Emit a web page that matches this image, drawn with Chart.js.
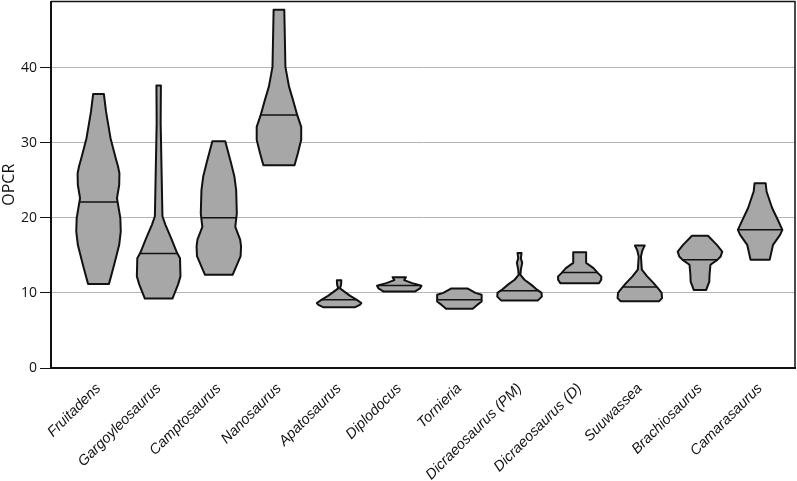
<!DOCTYPE html>
<html>
<head>
<meta charset="utf-8">
<script src="https://cdn.jsdelivr.net/npm/chart.js@4"></script>
<style>
  html, body { margin: 0; padding: 0; background: #fff; }
  #wrap { width: 797px; height: 481px; }
</style>
</head>
<body>
<div id="wrap"><canvas id="chart"></canvas></div>
<script>
'use strict';

const species = ['Fruitadens', 'Gargoyleosaurus', 'Camptosaurus', 'Nanosaurus', 'Apatosaurus',
  'Diplodocus', 'Tornieria', 'Dicraeosaurus (PM)', 'Dicraeosaurus (D)', 'Suuwassea',
  'Brachiosaurus', 'Camarasaurus'];

const medians = [22.1, 15.25, 20.0, 33.7, 9.1, 11.0, 9.1, 10.3, 12.7, 10.8, 14.4, 18.4];

// violin outlines: [OPCR, relative density width], top to bottom
const fruitadens = [[36.5, 0.24], [34.1, 0.34], [30.6, 0.54], [28.2, 0.75], [26.8, 0.88], [25.9, 0.94],
  [24.4, 0.93], [22.6, 0.83], [20.0, 0.98], [18.2, 1.0], [16.4, 0.93], [13.7, 0.70], [11.2, 0.47]];
const gargoyleosaurus = [[37.6, 0.10], [32.6, 0.09], [20.2, 0.17], [19.1, 0.30], [17.3, 0.56], [15.3, 0.83],
  [14.6, 0.96], [12.2, 0.98], [11.1, 0.87], [9.25, 0.62]];
const camptosaurus = [[30.2, 0.29], [27.3, 0.55], [25.5, 0.70], [23.7, 0.78], [20.6, 0.81], [18.8, 0.74],
  [17.1, 0.96], [16.2, 1.0], [14.9, 0.98], [13.5, 0.78], [12.4, 0.62]];
const nanosaurus = [[47.7, 0.24], [40.1, 0.29], [37.5, 0.45], [35.7, 0.63], [33.7, 0.82], [32.1, 1.0],
  [30.4, 1.0], [28.6, 0.85], [27.0, 0.70]];
const apatosaurus = [[11.7, 0.10], [11.1, 0.09], [10.6, 0.04], [10.2, 0.22], [9.6, 0.50], [9.1, 0.78],
  [8.65, 1.0], [8.4, 0.93], [8.1, 0.72]];
const diplodocus = [[12.1, 0.30], [11.7, 0.22], [11.3, 0.58], [10.95, 1.0], [10.6, 0.93], [10.2, 0.72]];
const tornieria = [[10.6, 0.36], [10.0, 0.72], [9.75, 1.0], [8.86, 1.0], [8.4, 0.80], [7.9, 0.60]];
const dicraeosaurusPM = [[15.3, 0.09], [14.6, 0.06], [14.0, 0.12], [13.1, 0.06], [12.4, 0.04], [11.75, 0.22],
  [11.1, 0.52], [10.4, 0.80], [10.0, 0.99], [9.5, 1.0], [9.0, 0.83]];
const dicraeosaurusD = [[15.4, 0.29], [14.0, 0.29], [13.3, 0.62], [12.6, 0.83], [12.2, 0.97], [11.75, 0.97],
  [11.3, 0.87]];
const suuwassea = [[16.3, 0.22], [15.7, 0.12], [14.85, 0.05], [13.1, 0.09], [12.2, 0.33], [11.3, 0.62],
  [10.6, 0.82], [10.0, 0.98], [9.3, 1.0], [8.9, 0.87]];
const brachiosaurus = [[17.6, 0.36], [16.4, 0.76], [15.5, 1.0], [14.85, 0.93], [14.4, 0.78], [13.75, 0.47],
  [12.4, 0.43], [11.5, 0.42], [10.4, 0.28]];
const camarasaurus = [[24.6, 0.25], [23.5, 0.29], [21.3, 0.54], [19.5, 0.83], [18.4, 1.0], [17.7, 0.89],
  [16.4, 0.58], [14.4, 0.43]];

const yTicks = [0, 10, 20, 30, 40];

const profiles = [fruitadens, gargoyleosaurus, camptosaurus, nanosaurus, apatosaurus, diplodocus,
  tornieria, dicraeosaurusPM, dicraeosaurusD, suuwassea, brachiosaurus, camarasaurus];

const HALF = 0.37; // half of the widest violin, in category units

function widthAt(prof, v) {
  for (let k = 0; k < prof.length - 1; k++) {
    const [v0, w0] = prof[k], [v1, w1] = prof[k + 1];
    if (v <= v0 && v >= v1) {
      return w0 + (w1 - w0) * (v0 - v) / (v0 - v1);
    }
  }
  return 0;
}

const violinPlugin = {
  id: 'violins',
  afterDatasetsDraw(chart) {
    const { ctx, scales: { x, y } } = chart;
    ctx.save();
    ctx.lineJoin = 'round';
    profiles.forEach((prof, i) => {
      ctx.beginPath();
      prof.forEach(([v, w], k) => {
        const px = x.getPixelForValue(i + w * HALF), py = y.getPixelForValue(v);
        if (k) ctx.lineTo(px, py); else ctx.moveTo(px, py);
      });
      for (let k = prof.length - 1; k >= 0; k--) {
        const [v, w] = prof[k];
        ctx.lineTo(x.getPixelForValue(i - w * HALF), y.getPixelForValue(v));
      }
      ctx.closePath();
      ctx.fillStyle = '#a7a7a7';
      ctx.fill();
      ctx.lineWidth = 2;
      ctx.strokeStyle = '#111';
      ctx.stroke();

      // median line
      const m = medians[i], w = widthAt(prof, m);
      const py = y.getPixelForValue(m);
      ctx.beginPath();
      ctx.moveTo(x.getPixelForValue(i - w * HALF), py);
      ctx.lineTo(x.getPixelForValue(i + w * HALF), py);
      ctx.lineWidth = 1.5;
      ctx.stroke();
    });
    ctx.restore();
  },
  afterDraw(chart) {
    // top and right edges of the plot box
    const { ctx, chartArea: a } = chart;
    ctx.save();
    ctx.strokeStyle = '#111';
    ctx.lineWidth = 1.5;
    ctx.beginPath();
    ctx.moveTo(a.left, a.top);
    ctx.lineTo(a.right, a.top);
    ctx.lineTo(a.right, a.bottom);
    ctx.stroke();
    ctx.restore();
  }
};

new Chart(document.getElementById('chart'), {
  type: 'scatter',
  data: {
    datasets: [{
      data: medians.map((m, i) => ({ x: i, y: m })),
      pointRadius: 0,
      showLine: false
    }]
  },
  options: {
    responsive: true,
    maintainAspectRatio: false,
    animation: false,
    layout: { padding: { top: 1.5, right: 2, left: 0, bottom: 0 } },
    plugins: { legend: { display: false }, tooltip: { enabled: false } },
    scales: {
      x: {
        type: 'linear',
        min: -0.79,
        max: 11.58,
        afterBuildTicks: (scale) => { scale.ticks = species.map((s, i) => ({ value: i })); },
        afterFit: (scale) => {
          scale.height = 113;
          scale.paddingLeft = 0;
          scale.paddingRight = 0;
        },
        grid: { display: false },
        border: { display: true, color: '#111', width: 2 },
        ticks: {
          autoSkip: false,
          minRotation: 45,
          maxRotation: 45,
          padding: 4,
          color: '#111',
          font: { family: 'Liberation Sans', size: 14.5, style: 'italic' },
          callback: (v) => species[v]
        }
      },
      y: {
        min: 0,
        max: 48.8,
        afterBuildTicks: (scale) => { scale.ticks = yTicks.map(v => ({ value: v })); },
        afterFit: (scale) => {
          scale.width = 51;
          scale.paddingTop = 0;
          scale.paddingBottom = 0;
        },
        grid: { color: '#b5b5b5', lineWidth: 1, tickColor: '#111', tickLength: 11 },
        border: { display: true, color: '#111', width: 2 },
        ticks: {
          padding: 3,
          color: '#111',
          font: { family: 'Open Sans', size: 14 }
        },
        title: {
          display: true,
          text: 'OPCR',
          color: '#111',
          padding: 0,
          font: { family: 'Open Sans', size: 16 }
        }
      }
    }
  },
  plugins: [violinPlugin]
});
</script>
</body>
</html>
